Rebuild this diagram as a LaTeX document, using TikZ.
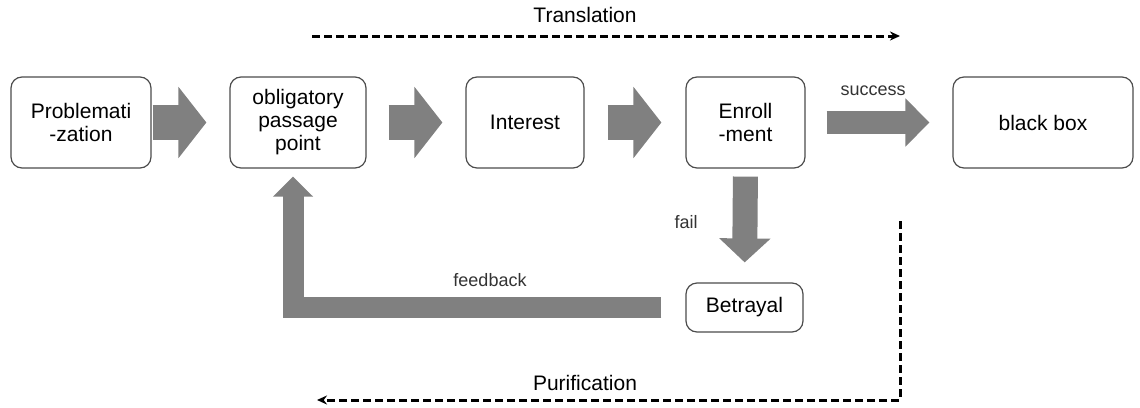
\documentclass[tikz,border=0pt]{standalone}
\usepackage{fontspec}
\setmainfont{Liberation Sans}
\usetikzlibrary{arrows.meta,positioning,calc}

\begin{document}
\begin{tikzpicture}[
    x=1pt, y=-1pt,
    box/.style={draw=black!70, line width=1.2pt, rounded corners=11pt, fill=white, align=center,
      minimum height=91pt, inner sep=0pt, font=\fontsize{21}{23}\selectfont},
    bigarrow/.style={line width=35pt, gray, -{Triangle[length=28pt, width=70pt]}},
    smallarrow/.style={line width=23pt, gray, -{Triangle[length=24pt, width=47pt]}},
    downarrow/.style={line width=25pt, gray, -{Triangle[length=24pt, width=50pt]}},
    fbarrow/.style={line width=21pt, gray, line join=miter, -{Triangle[length=20pt, width=39pt]}},
    phase/.style={line width=3pt, dash pattern=on 8pt off 4pt, -{Stealth[length=10pt, width=9pt]}},
    lbl/.style={font=\fontsize{18}{20}\selectfont, text=black!80},
    phaselbl/.style={font=\fontsize{21}{23}\selectfont}
  ]
  \useasboundingbox (0,0) rectangle (1140,407);

  % boxes
  \node[box, minimum width=140pt] (prob) at (81,122.5) {Problemati\\-zation};
  \node[box, minimum width=136pt] (opp) at (298,122.5) {obligatory\\passage\\point};
  \node[box, minimum width=118pt] (intr) at (525,122.5) {Interest};
  \node[box, minimum width=119pt] (enrl) at (745.5,122.5) {Enroll\\-ment};
  \node[box, minimum width=180pt] (bbox) at (1043,122.5) {black box};
  \node[box, minimum width=117pt, minimum height=49pt] (betr) at (744.5,307.5) {Betrayal};

  % block arrows
  \draw[bigarrow, shorten <=1pt, shorten >=23pt] (prob.east) -- (opp.west);
  \draw[bigarrow, shorten <=22pt, shorten >=23pt] (opp.east) -- (intr.west);
  \draw[bigarrow, shorten <=23pt, shorten >=24pt] (intr.east) -- (enrl.west);
  \draw[smallarrow, shorten <=21pt, shorten >=23pt] (enrl.east) -- (bbox.west);
  \node[lbl] (succ) at (873,91) {success};
  \draw[downarrow, shorten <=8pt, shorten >=20pt] (enrl.south) -- (betr.north);
  \node[lbl] (fail) at (686,222) {fail};
  \draw[fbarrow, shorten <=24pt, shorten >=8pt] (betr.west) -| ([xshift=-5pt]opp.south);
  \node[lbl] (fb) at (490,280) {feedback};

  % translation / purification
  \coordinate (tr1) at (312,36);
  \coordinate (tr2) at (900,36);
  \draw[phase] (tr1) -- (tr2);
  \node[phaselbl] (trl) at (585,15) {Translation};

  \coordinate (pu1) at (900,221);
  \coordinate (pu2) at (317,400);
  \draw[phase, line join=miter] (pu1) |- (pu2);
  \node[phaselbl] (pul) at (585,383) {Purification};
\end{tikzpicture}
\end{document}
